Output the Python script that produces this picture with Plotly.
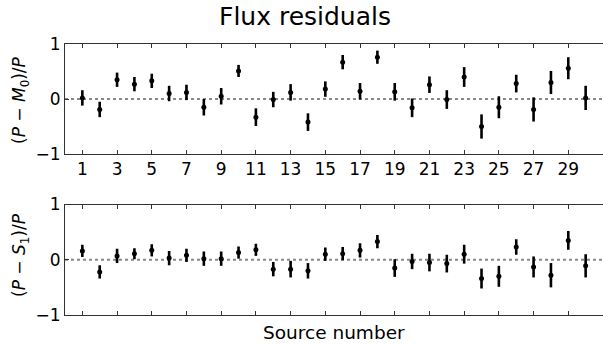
import plotly.graph_objects as go

# Source indices
sources = list(range(1, 31))

# Residuals relative to model M0, with 1-sigma uncertainties
resid_m0 = [0.02, -0.19, 0.35, 0.27, 0.33, 0.10, 0.12, -0.15, 0.05, 0.51,
            -0.33, -0.01, 0.12, -0.42, 0.18, 0.67, 0.14, 0.76, 0.13, -0.16,
            0.26, -0.01, 0.40, -0.50, -0.15, 0.28, -0.19, 0.30, 0.56, 0.02]
err_m0 = [0.14, 0.14, 0.13, 0.13, 0.13, 0.14, 0.14, 0.15, 0.15, 0.11,
          0.16, 0.14, 0.15, 0.16, 0.14, 0.13, 0.15, 0.12, 0.16, 0.17,
          0.15, 0.17, 0.18, 0.22, 0.20, 0.16, 0.22, 0.21, 0.20, 0.22]

# Residuals relative to model S1, with 1-sigma uncertainties
resid_s1 = [0.16, -0.22, 0.07, 0.11, 0.17, 0.03, 0.08, 0.02, 0.02, 0.13,
            0.18, -0.17, -0.17, -0.20, 0.10, 0.11, 0.17, 0.33, -0.15, -0.03,
            -0.05, -0.07, 0.10, -0.34, -0.30, 0.23, -0.13, -0.28, 0.35, -0.11]
err_s1 = [0.11, 0.12, 0.13, 0.10, 0.11, 0.13, 0.12, 0.13, 0.13, 0.11,
          0.11, 0.13, 0.15, 0.14, 0.12, 0.12, 0.13, 0.12, 0.16, 0.14,
          0.16, 0.16, 0.17, 0.18, 0.19, 0.14, 0.19, 0.22, 0.17, 0.21]

odd_ticks = list(range(1, 31, 2))
y_ticks = [-1, 0, 1]
y_tick_text = ["\u22121", "0", "1"]

FONT = "DejaVu Sans"
W, H = 603, 345
left_px = 65
top_panel_px = (44, 154)
bot_panel_px = (204.5, 315)


def ydom(px):
    return [1 - px[1] / H, 1 - px[0] / H]


fig = go.Figure()

for resid, err, xa, ya in [(resid_m0, err_m0, "x", "y"), (resid_s1, err_s1, "x2", "y2")]:
    fig.add_trace(go.Scatter(
        x=sources, y=resid, xaxis=xa, yaxis=ya, mode="markers",
        marker=dict(color="black", size=5),
        error_y=dict(type="data", array=err, visible=True, color="black",
                     thickness=2.6, width=0),
        showlegend=False, cliponaxis=False,
    ))

axis_common = dict(
    showline=True, linecolor="#333333", linewidth=1,
    ticks="inside", ticklen=4, tickcolor="#333333", showgrid=False,
    zeroline=False, automargin=False,
    tickfont=dict(family=FONT, size=17, color="black"),
)

x_dom = [left_px / W, 1.0]
fig.update_layout(
    template="none",
    width=W, height=H, autosize=False, margin=dict(l=0, r=0, t=0, b=0, pad=0),
    paper_bgcolor="white", plot_bgcolor="white",
    xaxis=dict(domain=x_dom, range=[0, 31], anchor="y", tickvals=odd_ticks,
               ticktext=[str(v) for v in odd_ticks], mirror="ticks", **axis_common),
    yaxis=dict(domain=ydom(top_panel_px), range=[-1, 1], anchor="x",
               tickvals=y_ticks, ticktext=y_tick_text, mirror=False, **axis_common),
    xaxis2=dict(domain=x_dom, range=[0, 31], anchor="y2", tickvals=odd_ticks,
                showticklabels=False, mirror="ticks", **axis_common),
    yaxis2=dict(domain=ydom(bot_panel_px), range=[-1, 1], anchor="x2",
                tickvals=y_ticks, ticktext=y_tick_text, mirror=False, **axis_common),
)

# dotted zero reference in each panel
for xr, yr in [("x", "y"), ("x2", "y2")]:
    fig.add_shape(type="line", xref=xr + " domain", yref=yr, x0=0, x1=1, y0=0, y1=0,
                  line=dict(color="#888888", width=2, dash="dot"), layer="below")


def label(text, x_px, y_px, size, angle=0):
    fig.add_annotation(text=text, xref="paper", yref="paper",
                       x=x_px / W, y=1 - y_px / H, xanchor="center", yanchor="middle",
                       showarrow=False, textangle=angle,
                       font=dict(family=FONT, size=size, color="black"))


label("Flux residuals", 305, 17, 25)
label("Source number", 334, 332, 18.5)
label("(<i>P</i> \u2212 <i>M</i><sub>0</sub>)/<i>P</i>", 21, 100, 17, -90)
label("(<i>P</i> \u2212 <i>S</i><sub>1</sub>)/<i>P</i>", 21, 255, 17, -90)

fig.write_html("out.html")
